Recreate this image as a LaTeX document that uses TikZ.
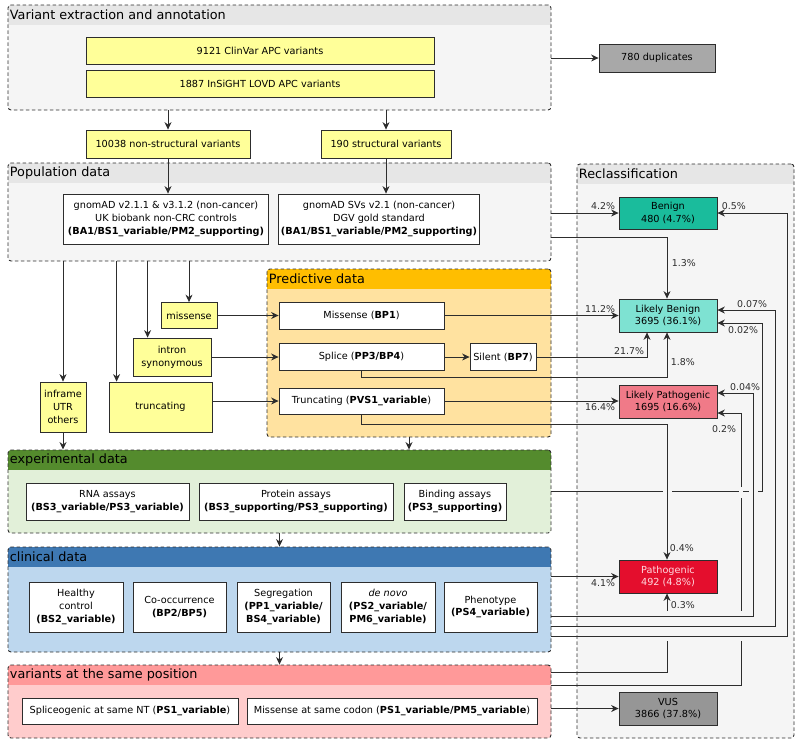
\documentclass[tikz,border=0pt]{standalone}
\usepackage{fontspec}
\setmainfont{DejaVu Sans}
\usetikzlibrary{arrows.meta}

\definecolor{linegrey}{RGB}{45,45,45}
\definecolor{lanebody}{RGB}{245,245,245}
\definecolor{lanehead}{RGB}{230,230,230}
\definecolor{predbody}{RGB}{255,226,160}
\definecolor{predhead}{RGB}{255,190,0}
\definecolor{expbody}{RGB}{226,240,217}
\definecolor{exphead}{RGB}{84,139,45}
\definecolor{clinbody}{RGB}{189,215,238}
\definecolor{clinhead}{RGB}{62,120,178}
\definecolor{posbody}{RGB}{255,204,204}
\definecolor{poshead}{RGB}{255,153,153}
\definecolor{srcyellow}{RGB}{255,255,153}
\definecolor{benigncol}{RGB}{26,188,156}
\definecolor{lbcol}{RGB}{126,226,210}
\definecolor{lpcol}{RGB}{240,122,136}
\definecolor{pathcol}{RGB}{228,14,45}
\definecolor{pathtext}{RGB}{255,215,222}
\definecolor{vuscol}{RGB}{150,150,150}
\definecolor{dupcol}{RGB}{168,168,168}

\tikzset{every picture/.style={line width=0.8pt}}
\tikzset{
  lane/.style 2 args={draw=linegrey, line width=0.9pt, dash pattern=on 3.5pt off 2.5pt, fill=#1, rounded corners=3pt, inner sep=0pt,
    path picture={\fill[#2, sharp corners] (path picture bounding box.north west) rectangle ([yshift=-20pt]path picture bounding box.north east);}},
  lanetitle/.style={anchor=west, inner sep=0pt, font=\fontsize{12.8}{14}\selectfont},
  infobox/.style={draw=linegrey, fill=white, inner sep=1pt, align=center, font=\fontsize{9.7}{12.8}\selectfont},
  srcbox/.style={infobox, fill=srcyellow},
  classbox/.style={infobox, fill=#1},
  pct/.style={inner sep=0.5pt, font=\fontsize{9.4}{11}\selectfont, text=linegrey},
  conn/.style={draw=linegrey, line width=1pt, -{Stealth[length=7.5pt,width=7pt]}},
  gapcut/.style={fill=lanebody, draw=none},
}

\begin{document}
\begin{tikzpicture}[x=1pt,y=1pt,yscale=-1,xscale=1]
\useasboundingbox (0,0) rectangle (800,745);

% Lanes
\node[lane={lanebody}{lanehead}, minimum width=543, minimum height=105] (extgrp) at (279.5,57.5) {};
\node[lane={lanebody}{lanehead}, minimum width=543, minimum height=98] (popgrp) at (279.5,212) {};
\node[lane={predbody}{predhead}, minimum width=284, minimum height=168] (predgrp) at (409,353) {};
\node[lane={expbody}{exphead}, minimum width=543, minimum height=83] (expgrp) at (279.5,491.5) {};
\node[lane={clinbody}{clinhead}, minimum width=543, minimum height=105] (clingrp) at (279.5,599.5) {};
\node[lane={posbody}{poshead}, minimum width=543, minimum height=73] (posgrp) at (279.5,701.5) {};
\node[lane={lanebody}{lanehead}, minimum width=217, minimum height=574] (recgrp) at (685.5,451) {};

% Lane titles
\node[lanetitle] (exttitle) at ([xshift=2pt,yshift=10pt]extgrp.north west) {Variant extraction and annotation};
\node[lanetitle] (poptitle) at ([xshift=2pt,yshift=10pt]popgrp.north west) {Population data};
\node[lanetitle] (predtitle) at ([xshift=2pt,yshift=10pt]predgrp.north west) {Predictive data};
\node[lanetitle] (exptitle) at ([xshift=2pt,yshift=10pt]expgrp.north west) {experimental data};
\node[lanetitle] (clintitle) at ([xshift=2pt,yshift=10pt]clingrp.north west) {clinical data};
\node[lanetitle] (postitle) at ([xshift=2pt,yshift=10pt]posgrp.north west) {variants at the same position};
\node[lanetitle] (rectitle) at ([xshift=2pt,yshift=10pt]recgrp.north west) {Reclassification};

% Sources
\node[srcbox, minimum width=348, minimum height=27] (clinvar) at (260,50.5) {9121 ClinVar APC variants};
\node[srcbox, minimum width=348, minimum height=27] (lovd) at (260,84) {1887 InSiGHT LOVD APC variants};
\node[classbox=dupcol, minimum width=116, minimum height=28] (dup) at (657,58) {780 duplicates};
\node[srcbox, minimum width=164, minimum height=28] (ns) at (168,144) {10038 non-structural variants};
\node[srcbox, minimum width=130, minimum height=28] (sv) at (386,144) {190 structural variants};

% Population
\node[infobox, minimum width=205, minimum height=50] (gnomadA) at (166,219) {gnomAD v2.1.1 \& v3.1.2 (non-cancer)\\UK biobank non-CRC controls\\\textbf{(BA1/BS1\_variable/PM2\_supporting)}};
\node[infobox, minimum width=201, minimum height=50] (gnomadB) at (379,219) {gnomAD SVs v2.1 (non-cancer)\\DGV gold standard\\\textbf{(BA1/BS1\_variable/PM2\_supporting)}};

% Variant types
\node[srcbox, minimum width=56, minimum height=26] (missense) at (189,315.5) {missense};
\node[srcbox, minimum width=78, minimum height=38] (intron) at (172,357) {intron\\synonymous};
\node[srcbox, minimum width=46, minimum height=50] (inframe) at (63,407) {inframe\\UTR\\others};
\node[srcbox, minimum width=103, minimum height=50] (trunc) at (160.5,407) {truncating};

% Predictive
\node[infobox, minimum width=165, minimum height=27] (bp1) at (361.5,315.5) {Missense (\textbf{BP1})};
\node[infobox, minimum width=165, minimum height=27] (splice) at (361.5,357) {Splice (\textbf{PP3/BP4})};
\node[infobox, minimum width=66, minimum height=27] (silent) at (503,357) {Silent (\textbf{BP7})};
\node[infobox, minimum width=165, minimum height=26] (pvs1) at (361.5,401) {Truncating (\textbf{PVS1\_variable})};

% Experimental
\node[infobox, minimum width=163, minimum height=37] (rna) at (107.5,501.5) {RNA assays\\\textbf{(BS3\_variable/PS3\_variable)}};
\node[infobox, minimum width=194, minimum height=37] (protein) at (296,501.5) {Protein assays\\\textbf{(BS3\_supporting/PS3\_supporting)}};
\node[infobox, minimum width=102, minimum height=37] (binding) at (455,501.5) {Binding assays\\\textbf{(PS3\_supporting)}};

% Clinical
\node[infobox, minimum width=94, minimum height=50] (healthy) at (76,607) {Healthy\\control\\\textbf{(BS2\_variable)}};
\node[infobox, minimum width=93, minimum height=50] (cooc) at (179.5,607) {Co-occurrence\\\textbf{(BP2/BP5)}};
\node[infobox, minimum width=93, minimum height=50] (segr) at (283.5,607) {Segregation\\\textbf{(PP1\_variable/}\\\textbf{BS4\_variable)}};
\node[infobox, minimum width=94, minimum height=50] (denovo) at (388,607) {\textit{de novo}\\\textbf{(PS2\_variable/}\\\textbf{PM6\_variable)}};
\node[infobox, minimum width=93, minimum height=50] (pheno) at (490.5,607) {Phenotype\\\textbf{(PS4\_variable)}};

% Same position
\node[infobox, minimum width=216, minimum height=26] (samnt) at (130,711) {Spliceogenic at same NT (\textbf{PS1\_variable})};
\node[infobox, minimum width=290, minimum height=26] (samcodon) at (392,711) {Missense at same codon (\textbf{PS1\_variable/PM5\_variable})};

% Reclassification
\node[classbox=benigncol, minimum width=98, minimum height=32] (benign) at (668,213) {Benign\\480 (4.7\%)};
\node[classbox=lbcol, minimum width=98, minimum height=33] (lb) at (668,315.5) {Likely Benign\\3695 (36.1\%)};
\node[classbox=lpcol, minimum width=98, minimum height=33] (lp) at (668,401.5) {Likely Pathogenic\\1695 (16.6\%)};
\node[classbox=pathcol, text=pathtext, minimum width=98, minimum height=33] (patho) at (668,576.5) {Pathogenic\\492 (4.8\%)};
\node[classbox=vuscol, minimum width=98, minimum height=33] (vus) at (668,708.5) {VUS\\3866 (37.8\%)};

% Channels on the right
\coordinate (chA) at (741,0);
\coordinate (chB) at (753,0);
\coordinate (chC) at (775,0);
\coordinate (chD) at (762,0);
\coordinate (chE) at (787,0);

% Extraction
\draw[conn] (extgrp.east |- dup) -- (dup);
\draw[conn] (extgrp.south -| ns) -- (ns);
\draw[conn] (extgrp.south -| sv) -- (sv);
\draw[conn] (ns.south) -- (ns.south |- gnomadA.north);
\draw[conn] (sv.south) -- (sv.south |- gnomadB.north);

% Population data to variant types
\draw[conn] (popgrp.south -| inframe) -- (inframe);
\draw[conn] ([xshift=8pt]trunc.north west |- popgrp.south) -- ([xshift=8pt]trunc.north west);
\draw[conn] ([xshift=15pt]intron.north west |- popgrp.south) -- ([xshift=15pt]intron.north west);
\draw[conn] (popgrp.south -| missense) -- (missense);

% Variant types to predictive data
\draw[conn] (missense) -- (bp1);
\draw[conn] (intron) -- (splice);
\draw[conn] (splice) -- (silent);
\draw[conn] (trunc.east |- pvs1) -- (pvs1);

% Lane to lane
\draw[conn] (inframe) -- (inframe |- expgrp.north);
\draw[conn] (predgrp.south) -- (predgrp.south |- expgrp.north);
\draw[conn] (expgrp.south) -- (expgrp.south |- clingrp.north);
\draw[conn] (clingrp.south) -- (clingrp.south |- posgrp.north);

% To reclassification
\draw[conn] (popgrp.east |- benign) -- (benign);
\draw[conn] ([yshift=25pt]popgrp.east) -| ([xshift=-1pt]lb.north);
\draw[conn] (bp1.east) -- (bp1.east -| lb.west);
\draw[conn] (silent.east) -| ([xshift=-21pt]lb.south);
\draw[conn] (splice.south) -- ++(0,7) -| ([xshift=-1pt]lb.south);
\draw[conn] (pvs1.east) -- (pvs1.east -| lp.west);
\draw[conn] ([yshift=-29.5pt]posgrp.east) -| ([xshift=-1pt]patho.south);
\draw[conn] ([yshift=-16.5pt]posgrp.east) -| ([yshift=11.5pt]lp.east -| chA) -- ([yshift=11.5pt]lp.east);
\draw[conn] (posgrp.east |- vus) -- (vus);
\draw[conn] (expgrp.east) -| ([yshift=7.5pt]lb.east -| chD) -- ([yshift=7.5pt]lb.east);

% Line jumps
\fill[gapcut] (739,486.5) rectangle (743,497.5);
\fill[gapcut] (665,611) rectangle (669,641);
\fill[gapcut] (739,611) rectangle (743,641);
\fill[gapcut] (662.5,489.5) rectangle (671.5,494.5);
\fill[gapcut] (748.5,489.5) rectangle (757.5,494.5);

\draw[conn] (pvs1.south) -- ++(0,10) -| ([xshift=-1pt]patho.north);
\draw[conn] (patho.west -| clingrp.east) -- (patho.west);
\draw[conn] ([yshift=16.5pt]clingrp.east) -| ([yshift=-8.5pt]lp.east -| chB) -- ([yshift=-8.5pt]lp.east);
\draw[conn] ([yshift=26.5pt]clingrp.east) -| ([yshift=-5.5pt]lb.east -| chC) -- ([yshift=-5.5pt]lb.east);
\draw[conn] ([yshift=36.5pt]clingrp.east) -| (benign.east -| chE) -- (benign.east);

% Percentages
\node[pct, anchor=south east] (p42) at (616,211) {4.2\%};
\node[pct, anchor=south west] (p05) at (721,211) {0.5\%};
\node[pct, anchor=west] (p13) at (671,263) {1.3\%};
\node[pct, anchor=south east] (p112) at (616,314) {11.2\%};
\node[pct, anchor=south] (p007) at (752,309) {0.07\%};
\node[pct, anchor=north] (p002) at (743,326) {0.02\%};
\node[pct, anchor=south east] (p217) at (645,356) {21.7\%};
\node[pct, anchor=west] (p18) at (670,362) {1.8\%};
\node[pct, anchor=south] (p004) at (745,392) {0.04\%};
\node[pct, anchor=north east] (p164) at (616,403) {16.4\%};
\node[pct, anchor=north east] (p02) at (737,425) {0.2\%};
\node[pct, anchor=west] (p04) at (669,548) {0.4\%};
\node[pct, anchor=north east] (p41) at (616,579) {4.1\%};
\node[pct, anchor=west] (p03) at (670,605) {0.3\%};
\end{tikzpicture}
\end{document}
